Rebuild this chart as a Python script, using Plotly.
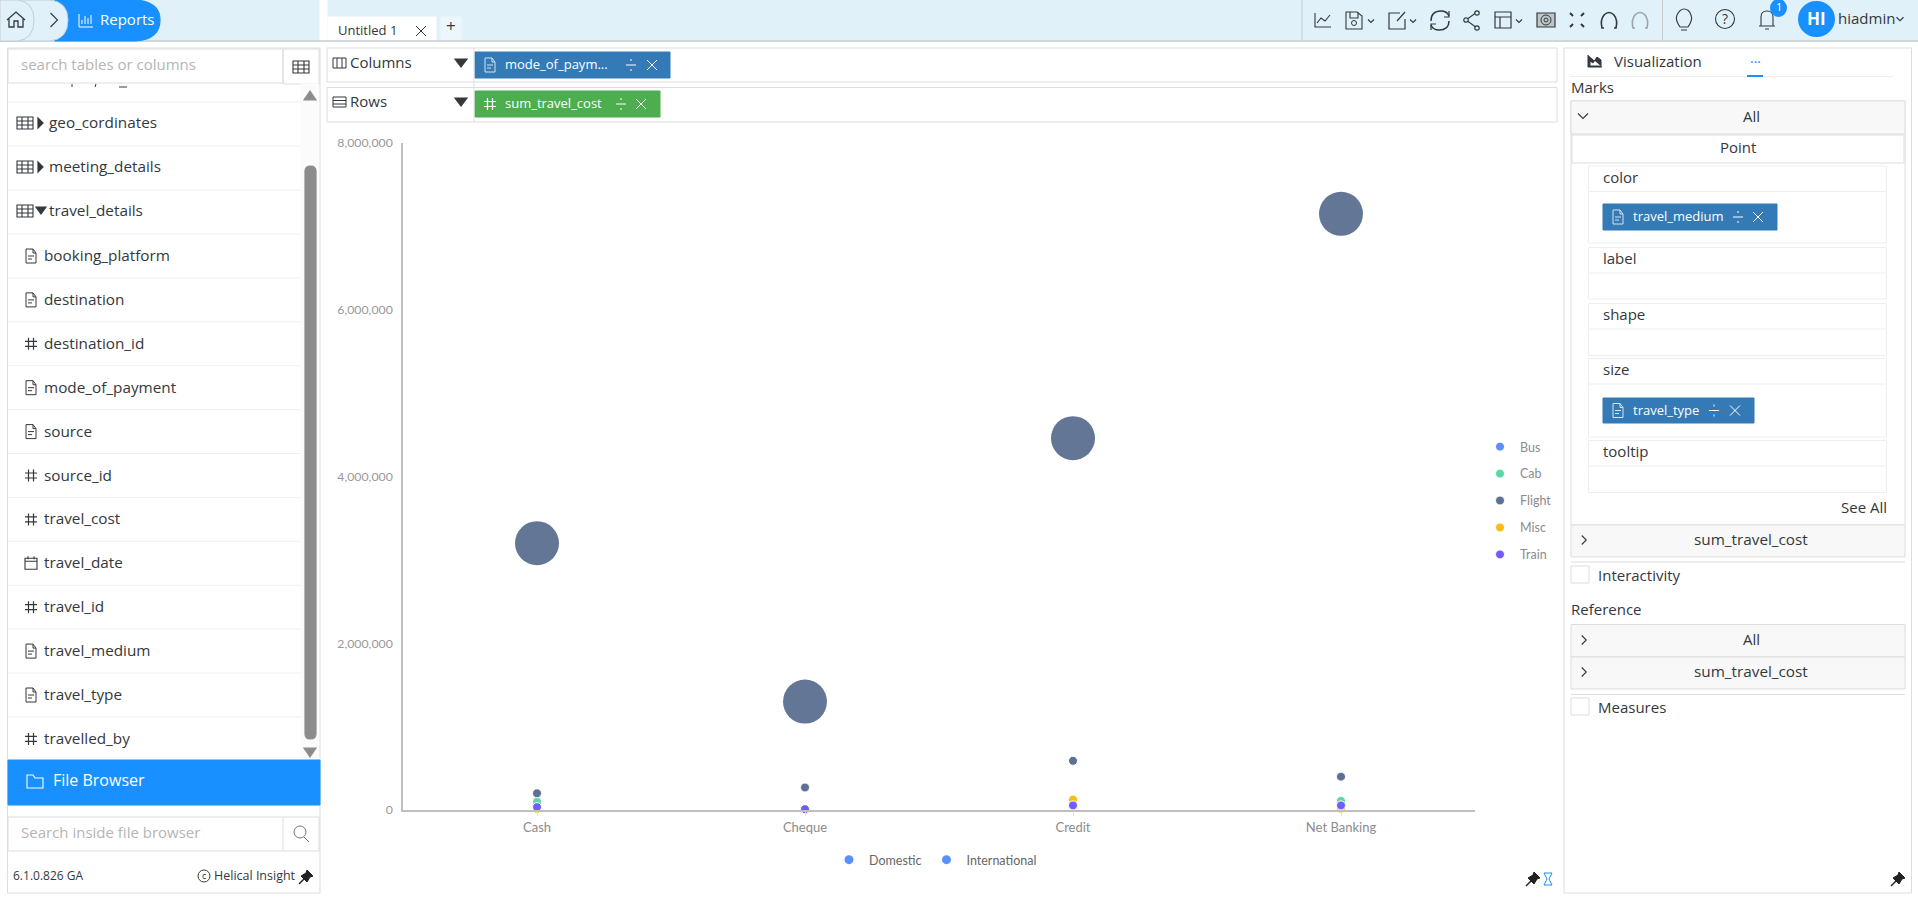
"""
Helical Insight report screen: sum_travel_cost by mode_of_payment
"""

import plotly.graph_objects as go

W, H = 1918, 902
UI_FONT = "Open Sans"
CHART_FONT = "Lato"
BLUE = "#1890FF"
PILL_BLUE = "#337AB7"
PILL_GREEN = "#4CAE4F"
LINE = "#DDDDDD"
DARK = "#33383D"

# data
payment_modes = ["Cash", "Cheque", "Credit", "Net Banking"]
mediums = ["Bus", "Cab", "Flight", "Misc", "Train"]
medium_colors = ["#5B8FF9", "#5AD8A6", "#5D7092", "#F6BD16", "#6F5EF9"]
bus_domestic = [30000, 5000, 50000, 50000]
cab_domestic = [100000, 5000, 60000, 110000]
flight_domestic = [200000, 270000, 590000, 400000]
misc_domestic = [15000, 5000, 125000, 15000]
train_domestic = [35000, 10000, 55000, 55000]
flight_international = [3200000, 1300000, 4460000, 7150000]
travel_types = ["Domestic", "International"]
y_ticks = [0, 2000000, 4000000, 6000000, 8000000]

# side panel texts
tables = ["geo_cordinates", "meeting_details", "travel_details"]
columns = ["booking_platform", "destination", "destination_id", "mode_of_payment", "source",
           "source_id", "travel_cost", "travel_date", "travel_id", "travel_medium",
           "travel_type", "travelled_by"]
column_kinds = ["doc", "doc", "hash", "doc", "doc", "hash", "hash", "cal", "hash", "doc", "doc", "hash"]
mark_boxes = ["color", "label", "shape", "size", "tooltip"]

fig = go.Figure()

domestic_values = [bus_domestic, cab_domestic, flight_domestic, misc_domestic, train_domestic]
for name, color, values in zip(mediums, medium_colors, domestic_values):
    if name == "Flight":
        fig.add_trace(go.Scatter(
            x=payment_modes, y=flight_international, mode="markers", showlegend=False,
            legendgroup=name, cliponaxis=False,
            marker=dict(color=color, size=44, opacity=0.96, line=dict(width=0)),
        ))
    fig.add_trace(go.Scatter(
        x=payment_modes, y=values, mode="markers", name=name, legend="legend",
        legendgroup=name, cliponaxis=False,
        marker=dict(color=color, size=9, line=dict(color="white", width=1)),
    ))

# size legend has no marks of its own
for name in travel_types:
    fig.add_trace(go.Scatter(
        x=[None], y=[None], mode="markers", name=name, legend="legend2",
        marker=dict(color="#5B8FF9", size=9),
    ))

# empty trace so the pixel axes exist
fig.add_trace(go.Scatter(x=[None], y=[None], xaxis="x2", yaxis="y2", showlegend=False))

shapes = []
notes = []


def text(x, y, s, size=14, color=DARK, anchor="left", font=UI_FONT):
    shift = {"left": -2, "center": 0, "right": 2}[anchor]
    notes.append(dict(x=x, y=y, xref="x2", yref="y2", text=s, showarrow=False, xanchor=anchor,
                      yanchor="middle", xshift=shift, yshift=1,
                      font=dict(family=font, size=size, color=color)))


def rect(x0, y0, x1, y1, fill="rgba(0,0,0,0)", line=LINE, width=1):
    shapes.append(dict(type="rect", xref="x2", yref="y2", x0=x0, y0=y0, x1=x1, y1=y1,
                       fillcolor=fill, line=dict(color=line, width=width), layer="below"))


def path(d, fill="rgba(0,0,0,0)", line=DARK, width=1.2):
    shapes.append(dict(type="path", xref="x2", yref="y2", path=d, fillcolor=fill,
                       line=dict(color=line, width=width), layer="above"))


def circle(cx, cy, r, fill="rgba(0,0,0,0)", line=DARK, width=1.2):
    shapes.append(dict(type="circle", xref="x2", yref="y2", x0=cx - r, y0=cy - r, x1=cx + r, y1=cy + r,
                       fillcolor=fill, line=dict(color=line, width=width), layer="above"))


def seg(x0, y0, x1, y1, color=LINE, width=1):
    path(f"M{x0} {y0} L{x1} {y1}", line=color, width=width)


def chevron(cx, cy, s=4, right=False, color=DARK):
    if right:
        path(f"M{cx - s / 2} {cy - s} L{cx + s / 2} {cy} L{cx - s / 2} {cy + s}", line=color, width=1.1)
    else:
        path(f"M{cx - s} {cy - s / 2} L{cx} {cy + s / 2} L{cx + s} {cy - s / 2}", line=color, width=1.1)


def doc(cx, cy, color=DARK):
    path(f"M{cx - 5} {cy - 7} L{cx + 2} {cy - 7} L{cx + 5} {cy - 3} L{cx + 5} {cy + 7} L{cx - 5} {cy + 7} Z"
         f" M{cx + 2} {cy - 7} L{cx + 2} {cy - 3} L{cx + 5} {cy - 3}"
         f" M{cx - 3} {cy} L{cx + 3} {cy} M{cx - 3} {cy + 3} L{cx + 1} {cy + 3}", line=color, width=1)


def hash_icon(cx, cy, color=DARK):
    path(f"M{cx - 2.5} {cy - 6} L{cx - 2.5} {cy + 6} M{cx + 2.5} {cy - 6} L{cx + 2.5} {cy + 6}"
         f" M{cx - 6} {cy - 2.5} L{cx + 6} {cy - 2.5} M{cx - 6} {cy + 2.5} L{cx + 6} {cy + 2.5}",
         line=color, width=1.2)


def calendar(cx, cy):
    path(f"M{cx - 6} {cy - 5} L{cx + 6} {cy - 5} L{cx + 6} {cy + 6} L{cx - 6} {cy + 6} Z"
         f" M{cx - 6} {cy - 2} L{cx + 6} {cy - 2} M{cx - 3} {cy - 7} L{cx - 3} {cy - 4}"
         f" M{cx + 3} {cy - 7} L{cx + 3} {cy - 4}", width=1.1)


def grid_icon(cx, cy, color=DARK):
    d = f"M{cx - 8} {cy - 6} L{cx + 8} {cy - 6} L{cx + 8} {cy + 6} L{cx - 8} {cy + 6} Z"
    for dx in (-3, 3):
        d += f" M{cx + dx} {cy - 6} L{cx + dx} {cy + 6}"
    for dy in (-2, 2):
        d += f" M{cx - 8} {cy + dy} L{cx + 8} {cy + dy}"
    path(d, line=color, width=1.1)


def divide(cx, cy, color="white"):
    seg(cx - 5, cy, cx + 5, cy, color=color)
    seg(cx, cy - 6, cx, cy - 4, color=color)
    seg(cx, cy + 4, cx, cy + 6, color=color)


def cross(cx, cy, s=5, color="white"):
    seg(cx - s, cy - s, cx + s, cy + s, color=color)
    seg(cx - s, cy + s, cx + s, cy - s, color=color)


def pin(cx, cy):
    path(f"M{cx - 7} {cy + 7} L{cx - 2} {cy + 2}", line="#222222", width=1.4)
    path(f"M{cx + 1} {cy - 7} L{cx + 7} {cy - 1} L{cx + 4} {cy} L{cx + 1} {cy + 5} L{cx - 5} {cy - 1}"
         f" L{cx} {cy - 4} Z", fill="#222222", line="#222222", width=1)


def pill(x0, x1, y0, y1, label, div_x, cross_x, fill=PILL_BLUE, icon="doc"):
    cy = (y0 + y1) / 2
    rect(x0, y0, x1, y1, fill=fill, line=fill)
    if icon == "doc":
        doc(x0 + 15, cy, color="#D6E4F0")
    else:
        hash_icon(x0 + 15, cy, color="white")
    text(x0 + 30, cy, label, size=13, color="white")
    divide(div_x, cy)
    cross(cross_x, cy)


# top bar
rect(0, 0, W, 41, fill="#E1F1FA", line="#E1F1FA")
seg(0, 41, W, 41, color="#C8CDD0", width=1.5)
rect(320, 0, 327, 41, fill="white", line="white")
path("M55 0 L136 0 Q160 2 160 20 Q160 39 136 41 L55 41 Z", fill=BLUE, line=BLUE)
path("M0 0 L50 0 Q68 2 68 20 Q68 39 50 41 L0 41 Z", fill="#E1F1FA", line="#BFD0DA", width=1)
path("M0 0 L18 0 Q34 2 34 20 Q34 39 18 41 L0 41 Z", fill="#E1F1FA", line="#C8CDD0", width=1)
path("M7 20 L16 12 L25 20 M9 18 L9 27 L14 27 L14 21 L18 21 L18 27 L23 27 L23 18", width=1.3)
chevron(54, 20, s=7, right=True)
path("M79 14 L79 27 L93 27 M82 24 L82 20 M85 24 L85 16 M88 24 L88 18 M91 24 L91 15", line="white", width=1)
text(100, 20, "Reports", size=15, color="white")
rect(328, 17, 436, 41, fill="white", line="white")
rect(441, 17, 461, 41, fill="#EDF6FB", line="#EDF6FB")
text(338, 31, "Untitled 1", size=13)
cross(421, 31, s=5, color=DARK)
text(451, 26, "+", size=17, anchor="center")

# toolbar
seg(1302, 0, 1302, 41, color="#C8CDD0")
seg(1662.5, 0, 1662.5, 41, color="#C8CDD0")
path("M1315 13 L1315 27 L1331 27 M1317 23 L1321 18 L1325 21 L1330 15", width=1.1)
path("M1346 12 L1357 12 L1362 16 L1362 29 L1346 29 Z M1350 12 L1350 18 L1358 18 L1358 12", width=1.1)
circle(1354, 23, 2.5, width=1)
chevron(1371, 21, s=3)
path("M1400 13 L1389 13 L1389 29 L1405 29 L1405 19 M1397 21 L1405 12", width=1.2)
chevron(1413, 21, s=3)
path("M1431 21 Q1431 11 1441 11 Q1447 11 1449 16 M1449 21 Q1449 30 1439 30 Q1433 30 1431 25", width=1.5)
path("M1449 11 L1449 17 L1444 17 M1431 30 L1431 24 L1436 24", width=1.2)
path("M1477 12 L1466 20 L1477 28", width=1.1)
circle(1477, 13, 2.2, fill="#E1F1FA")
circle(1466, 20, 2.2, fill="#E1F1FA")
circle(1477, 28, 2.2, fill="#E1F1FA")
path("M1495 12 L1511 12 L1511 28 L1495 28 Z M1495 17 L1511 17 M1500 17 L1500 28", width=1.2)
chevron(1519, 21, s=3)
rect(1537, 13, 1555, 27, fill="#BFC6CA", line=DARK, width=1.2)
circle(1546, 20, 5, width=1)
circle(1546, 20, 2, width=1)
path("M1570 13 L1573 16 M1584 13 L1581 16 M1570 27 L1573 24 M1584 27 L1581 24", width=2)
path("M1604 28 L1602 28 Q1600 20 1604 15 Q1609 10 1614 15 Q1618 20 1616 28 L1614 28", width=1.6)
path("M1635 28 L1633 28 Q1631 20 1635 15 Q1640 10 1645 15 Q1649 20 1647 28 L1645 28",
     line="#9AA5AB", width=1.6)
path("M1680 27 Q1675 20 1677 15 Q1680 9 1684 9 Q1689 9 1691 15 Q1693 20 1688 27 Z M1681 30 L1687 30", width=1.1)
circle(1725, 19, 9.5, width=1.1)
text(1725, 19, "?", size=14, anchor="center")
path("M1761 26 L1761 17 Q1761 11 1767 11 Q1773 11 1773 17 L1773 26 Z M1759 26 L1775 26 M1765 29 L1769 29", width=1.1)
shapes.append(dict(type="circle", xref="x2", yref="y2", x0=1771, y0=0, x1=1786, y1=16, fillcolor=BLUE,
                   line=dict(color=BLUE), layer="above"))
text(1778.5, 7, "1", size=11, color="white", anchor="center")
shapes.append(dict(type="circle", xref="x2", yref="y2", x0=1799, y0=2, x1=1834, y1=36, fillcolor=BLUE,
                   line=dict(color=BLUE), layer="above"))
text(1816.5, 19, "<b>HI</b>", size=17, color="white", anchor="center")
text(1838, 19, "hiadmin", size=15)
chevron(1900, 19, s=3.5)

# left panel
rect(7.5, 48, 320, 893)
rect(8, 49, 283, 83)
rect(283, 49, 319, 84)
text(21, 65, "search tables or columns", size=15, color="#B5B5B5")
grid_icon(301, 67)
path("M72 84 L72 87 M96 84 L95 87 M119 87 L127 87", width=1)
rect(301, 84, 318, 760, fill="#FBFBFB", line="#FBFBFB")
path("M310 91 L316 100 L304 100 Z", fill="#8C8C8C", line="#8C8C8C")
path("M304 748 L316 748 L310 757 Z", fill="#8C8C8C", line="#8C8C8C")
path("M305 171 Q305 166 310.5 166 Q316 166 316 171 L316 734 Q316 739 310.5 739 Q305 739 305 734 Z",
     fill="#8C8C8C", line="#8C8C8C")
for i, name in enumerate(tables):
    cy = 123 + 44 * i
    seg(8, cy - 21, 301, cy - 21, color="#F0F0F0")
    grid_icon(25, cy)
    if name == "travel_details":
        path(f"M36 {cy - 4} L46 {cy - 4} L41 {cy + 3} Z", fill=DARK, line=DARK)
    else:
        path(f"M38 {cy - 5} L43 {cy} L38 {cy + 5} Z", fill=DARK, line=DARK)
    text(49, cy, name, size=15.3)
for i, (name, kind) in enumerate(zip(columns, column_kinds)):
    cy = 256 + 43.9 * i
    seg(8, cy - 22, 301, cy - 22, color="#F0F0F0")
    if kind == "doc":
        doc(31, cy)
    elif kind == "hash":
        hash_icon(31, cy)
    else:
        calendar(31, cy)
    text(44, cy, name, size=15.3)
rect(8, 760, 320, 805, fill=BLUE, line=BLUE)
path("M27 775 L33 775 L35 778 L43 778 L43 788 L27 788 Z", line="white", width=1.1)
text(53, 781, "File Browser", size=16, color="white")
rect(8, 817, 319, 851)
seg(283, 817, 283, 851)
text(21, 833, "Search inside file browser", size=15, color="#B5B5B5")
circle(300, 832, 6, line="#777777", width=1)
seg(304, 837, 309, 842, color="#777777")
text(13, 876, "6.1.0.826 GA", size=12)
circle(204, 876, 6, width=1)
text(204, 876, "c", size=9, anchor="center")
text(214, 876, "Helical Insight", size=12.5)
pin(306, 877)

# shelf rows
rect(327, 48, 1557, 82)
rect(327, 87.5, 1557, 122)
seg(474, 48, 474, 122)
path("M333 58 L346 58 L346 68 L333 68 Z M337 58 L337 68 M342 58 L342 68", width=1)
text(350, 63, "Columns", size=15)
path("M455 59 L467 59 L461 67 Z", fill=DARK, line=DARK)
path("M333 97 L346 97 L346 107 L333 107 Z M333 100.5 L346 100.5 M333 104 L346 104", width=1)
text(350, 102, "Rows", size=15)
path("M455 98 L467 98 L461 106 Z", fill=DARK, line=DARK)
pill(475, 670, 52, 78, "mode_of_paym...", 631, 652)
pill(475, 660, 91, 117, "sum_travel_cost", 621, 641, fill=PILL_GREEN, icon="hash")

# right panel
rect(1564, 48, 1911.5, 893)
path("M1588 55 L1588 67 L1602 67 M1590 66 L1590 61 L1593 63 L1597 57 L1601 60 L1601 66 Z", fill=DARK, width=1)
text(1614, 62, "Visualization", size=15)
text(1755, 58, "...", size=14, color=BLUE, anchor="center")
seg(1570, 76.5, 1893, 76.5, color="#EEEEEE")
seg(1747, 76, 1763, 76, color=BLUE, width=2)
text(1571, 88, "Marks", size=15)
rect(1571, 101, 1905, 525)
rect(1571, 101, 1905, 134, fill="#F8F8F8")
chevron(1583, 116, s=5)
text(1751, 117, "All", size=15, anchor="center")
rect(1572, 135, 1904, 163)
text(1738, 148, "Point", size=15, anchor="center")
box_tops = [166, 247.5, 303.5, 358.5, 440.5]
box_bottoms = [243, 299, 355.5, 437, 492.5]
for name, top, bottom in zip(mark_boxes, box_tops, box_bottoms):
    rect(1588.5, top, 1886.5, bottom, line="#EEEEEE")
    seg(1588.5, top + 25.5, 1886.5, top + 25.5, color="#EEEEEE")
    text(1603, top + 11.5, name, size=15)
pill(1603, 1777, 204, 230, "travel_medium", 1738, 1758)
pill(1603, 1754, 398, 423, "travel_type", 1714, 1735)
text(1887, 508, "See All", size=15, anchor="right")
rect(1571, 525, 1905, 557, fill="#F8F8F8")
chevron(1584, 540, s=4.5, right=True)
text(1751, 540, "sum_travel_cost", size=15.3, anchor="center")
seg(1571, 562, 1905, 562)
rect(1571, 566, 1589, 583)
text(1598, 576, "Interactivity", size=15)
text(1571, 610, "Reference", size=15)
rect(1571, 624.5, 1905, 657, fill="#F8F8F8")
rect(1571, 657, 1905, 689, fill="#F8F8F8")
chevron(1584, 640, s=4.5, right=True)
chevron(1584, 672, s=4.5, right=True)
text(1751, 640, "All", size=15, anchor="center")
text(1751, 672, "sum_travel_cost", size=15.3, anchor="center")
seg(1571, 694.5, 1905, 694.5)
rect(1571, 698, 1589, 715)
text(1598, 708, "Measures", size=15)
pin(1898, 879)
pin(1533, 879)
path("M1544 873 L1552 873 L1549 879 L1552 885 L1544 885 L1547 879 Z", line=BLUE, width=1)

fig.update_layout(
    width=W,
    height=H,
    margin=dict(l=0, r=0, t=0, b=0, pad=0, autoexpand=False),
    paper_bgcolor="white",
    plot_bgcolor="rgba(0,0,0,0)",
    hovermode="closest",
    xaxis=dict(
        domain=[403 / W, 1475 / W], range=[-0.5, 3.5], type="category", anchor="y",
        categoryorder="array", categoryarray=payment_modes,
        showline=True, linecolor="#BFBFBF", linewidth=1.5, showgrid=False, zeroline=False,
        ticks="outside", ticklen=4, tickcolor="#E6E6E6", ticklabelstandoff=1,
        tickfont=dict(family=CHART_FONT, size=13, color="#8C8C8C"),
    ),
    yaxis=dict(
        domain=[(H - 810) / H, (H - 143) / H], range=[0, 8000000], anchor="x",
        tickvals=y_ticks, tickformat=",d",
        showline=True, linecolor="#BFBFBF", linewidth=1.5, showgrid=False, zeroline=False,
        ticks="", ticklabelstandoff=6,
        tickfont=dict(family=CHART_FONT, size=12.3, color="#999999"),
    ),
    xaxis2=dict(domain=[0, 1], range=[0, W], visible=False, fixedrange=True, anchor="y2"),
    yaxis2=dict(domain=[0, 1], range=[H, 0], visible=False, fixedrange=True, anchor="x2"),
    legend=dict(
        x=1480 / W, y=(H - 432) / H, xanchor="left", yanchor="top", tracegroupgap=7.7,
        bgcolor="rgba(0,0,0,0)", borderwidth=0,
        font=dict(family=CHART_FONT, size=12.5, color="#8C8C8C"),
    ),
    legend2=dict(
        orientation="h", x=829 / W, y=(H - 845) / H, xanchor="left", yanchor="top",
        bgcolor="rgba(0,0,0,0)", borderwidth=0,
        font=dict(family=CHART_FONT, size=12.5, color="#666666"),
    ),
    shapes=shapes,
    annotations=notes,
    showlegend=True,
)

fig.write_html("out.html", config=dict(displayModeBar=False),
               post_script="document.body.style.margin='0';")
